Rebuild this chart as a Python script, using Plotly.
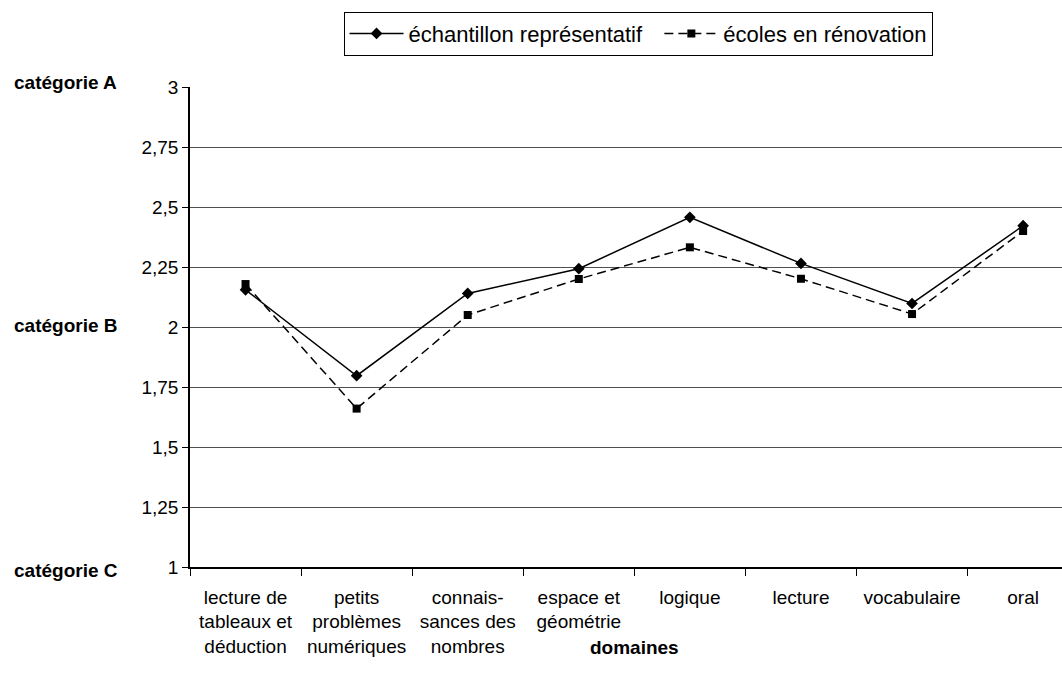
import plotly.graph_objects as go

categories = [
    "lecture de<br>tableaux et<br>déduction",
    "petits<br>problèmes<br>numériques",
    "connais-<br>sances des<br>nombres",
    "espace et<br>géométrie",
    "logique",
    "lecture",
    "vocabulaire",
    "oral",
]
echantillon = [2.155, 1.797, 2.14, 2.243, 2.457, 2.265, 2.098, 2.422]
renovation = [2.179, 1.66, 2.05, 2.20, 2.332, 2.201, 2.054, 2.40]
y_ticks = [1, 1.25, 1.5, 1.75, 2, 2.25, 2.5, 2.75, 3]
y_tick_labels = ["1", "1,25", "1,5", "1,75", "2", "2,25", "2,5", "2,75", "3"]
cat_labels = ["catégorie A", "catégorie B", "catégorie C"]
cat_values = [3, 2, 1]
cat_shifts = [5, 2, -3]

FONT = "Liberation Sans, Arial, sans-serif"

fig = go.Figure()
fig.add_trace(go.Scatter(
    x=categories, y=echantillon, name="échantillon représentatif\u00a0\u00a0",
    mode="lines+markers",
    line=dict(color="black", width=1.5),
    marker=dict(symbol="diamond", size=9, color="black"),
))
fig.add_trace(go.Scatter(
    x=categories, y=renovation, name="écoles en rénovation",
    mode="lines+markers",
    line=dict(color="black", width=1.5, dash="9px,5px"),
    marker=dict(symbol="square", size=8, color="black"),
))

for lab, v, s in zip(cat_labels, cat_values, cat_shifts):
    fig.add_annotation(
        text="<b>" + lab + "</b>", x=-0.2041, xref="paper", xanchor="left",
        y=v, yref="y", yanchor="middle", yshift=s, showarrow=False,
        font=dict(family=FONT, size=19, color="black"),
    )

fig.add_annotation(
    text="<b>domaines</b>", x=3.5, xref="x", y=-0.168, yref="paper",
    yanchor="middle", xanchor="center", showarrow=False,
    font=dict(family=FONT, size=19, color="black"),
)

fig.update_layout(
    width=1062, height=684,
    margin=dict(l=190, r=0, t=87, b=117),
    paper_bgcolor="white", plot_bgcolor="white",
    font=dict(family=FONT, size=19, color="black"),
    showlegend=True,
    legend=dict(
        orientation="h", x=0.5138, xanchor="center", y=1.157, yanchor="top",
        bordercolor="black", borderwidth=1, bgcolor="white",
        itemwidth=54, font=dict(family=FONT, size=22, color="black"),
        tracegroupgap=0,
    ),
    xaxis=dict(
        type="category", range=[-0.5, 7.35], tickson="boundaries",
        ticks="outside", ticklen=7, tickcolor="black", tickwidth=1,
        ticklabelstandoff=12,
        showline=True, linecolor="black", linewidth=1.5,
        showgrid=False, zeroline=False,
        tickfont=dict(family=FONT, size=19, color="black"),
    ),
    yaxis=dict(
        range=[1, 3], tickvals=y_ticks, ticktext=y_tick_labels,
        ticks="outside", ticklen=6, tickcolor="black", tickwidth=1,
        showline=True, linecolor="black", linewidth=1.5,
        showgrid=True, gridcolor="#505050", gridwidth=1, zeroline=False,
        tickfont=dict(family=FONT, size=19, color="black"),
    ),
)

fig.write_html("out.html")
